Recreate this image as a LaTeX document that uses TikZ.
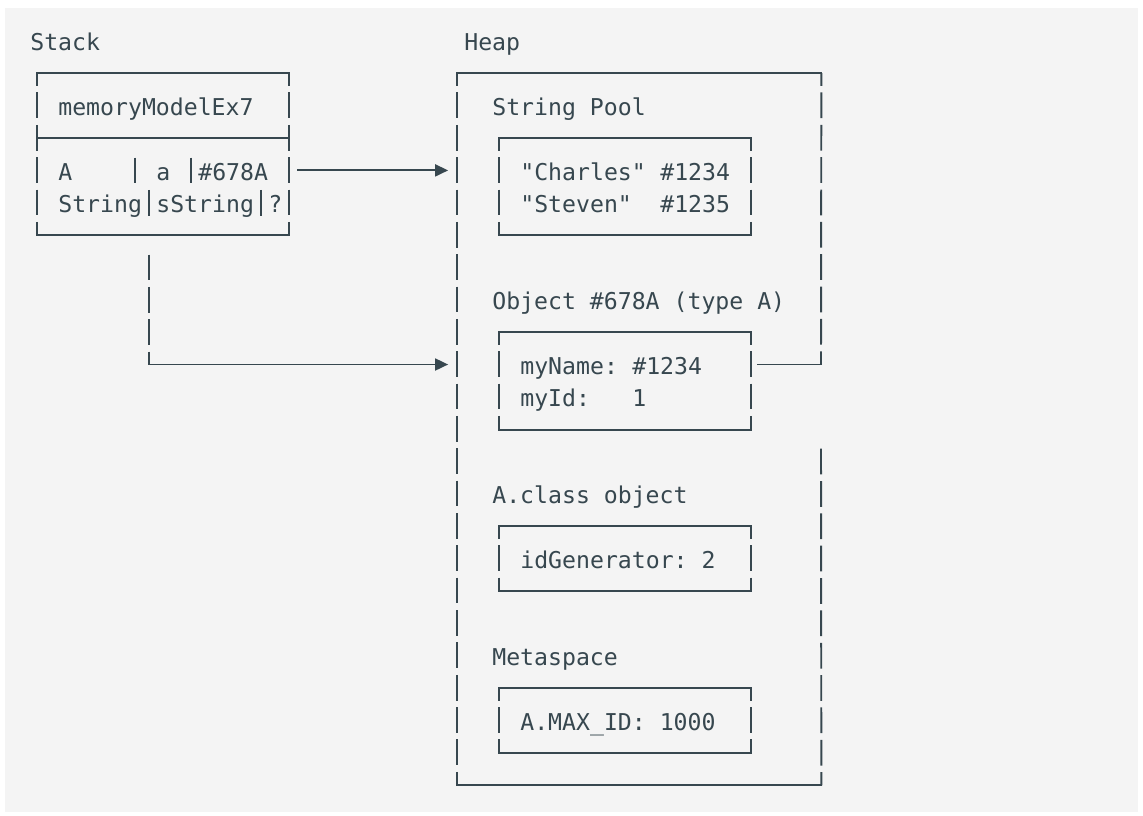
\documentclass[tikz,border=0pt]{standalone}
\usepackage{fontspec}
\setmonofont{DejaVu Sans Mono}
\usepackage{tikz}
\usetikzlibrary{arrows.meta,fit}
\definecolor{ink}{HTML}{37474F}
\definecolor{paper}{HTML}{F4F4F4}

\tikzset{
    hline/.style={ink, line width=1.1pt, line cap=rect},
    vline/.style={ink, line width=1.1pt, dash pattern=on 0.515cm off 0.132cm, dash phase=0.2575cm},
    vfull/.style={vline, dash phase=0.581cm},
    code/.style={font=\ttfamily\fontsize{13.18pt}{15pt}\selectfont, text=ink, inner sep=0pt, anchor=base west},
    ref/.style={ink, line width=1.1pt, -{Triangle[length=7.4pt, width=6.8pt]}},
    boxarea/.style={inner sep=0pt}
}

% four sides of a text box, vertical sides broken like the rows
\newcommand{\drawbox}[1]{%
    \draw[hline] (#1.north west) -- (#1.north east);
    \draw[hline] (#1.south west) -- (#1.south east);
    \draw[vline] (#1.north west) -- (#1.south west);
    \draw[vline] (#1.north east) -- (#1.south east);}

% one short upright bar inside a row
\newcommand{\cellbar}[2]{%
    \draw[ink, line width=1.1pt] (#1,#2-0.398) -- (#1,#2+0.398);}

\begin{document}
\begin{tikzpicture}[x=0.28cm, y=-0.647cm]
    % Page and background
    \useasboundingbox (-0.74cm,0.82cm) rectangle (22.12cm,-15.48cm);
    \fill[white] (-0.74cm,0.82cm) rectangle (22.12cm,-15.48cm);
    \fill[paper] (-0.64cm,0.66cm) rectangle (22.02cm,-15.42cm);

    % Titles
    \node[code] (stacklbl) at (-0.5,0.3) {Stack};
    \node[code] (heaplbl) at (30.5,0.3) {Heap};

    % Stack frame
    \node[boxarea, fit={(0,1) (18,6)}] (frame) {};
    \drawbox{frame}
    \draw[hline] (0,3) -- (18,3);
    \node[code] (method) at (1.5,2.3) {memoryModelEx7};
    \node[code] (typeA) at (1.5,4.3) {A};
    \node[code] (nameA) at (8.5,4.3) {a};
    \node[code] (valA) at (11.5,4.3) {\#678A};
    \node[code] (typeS) at (1.5,5.3) {String};
    \node[code] (nameS) at (8.5,5.3) {sString};
    \node[code] (valS) at (16.5,5.3) {?};
    \cellbar{7}{4}
    \cellbar{11}{4}
    \cellbar{8}{5}
    \cellbar{16}{5}

    % Heap outline (right side is broken below the link)
    \node[boxarea, fit={(30,1) (56,23)}] (heap) {};
    \draw[hline] (heap.north west) -- (heap.north east);
    \draw[hline] (heap.south west) -- (heap.south east);
    \draw[vline] (heap.north west) -- (heap.south west);
    \draw[vline] (heap.north east) -- (56,10);
    \draw[vfull] (56,12.5) -- (heap.south east);

    % String pool
    \node[code] (poollbl) at (32.5,2.3) {String Pool};
    \node[boxarea, fit={(33,3) (51,6)}] (pool) {};
    \drawbox{pool}
    \node[code] (charles) at (34.5,4.3) {"Charles"};
    \node[code] (id1234) at (44.5,4.3) {\#1234};
    \node[code] (steven) at (34.5,5.3) {"Steven"};
    \node[code] (id1235) at (44.5,5.3) {\#1235};

    % Object #678A
    \node[code] (objlbl) at (32.5,8.3) {Object \#678A (type A)};
    \node[boxarea, fit={(33,9) (51,12)}] (obj) {};
    \drawbox{obj}
    \node[code] (myname) at (34.5,10.3) {myName:};
    \node[code] (mynameval) at (42.5,10.3) {\#1234};
    \node[code] (myid) at (34.5,11.3) {myId:};
    \node[code] (myidval) at (42.5,11.3) {1};

    % A.class object
    \node[code] (classlbl) at (32.5,14.3) {A.class object};
    \node[boxarea, fit={(33,15) (51,17)}] (cls) {};
    \drawbox{cls}
    \node[code] (idgen) at (34.5,16.3) {idGenerator: 2};

    % Metaspace
    \node[code] (metalbl) at (32.5,19.3) {Metaspace};
    \node[boxarea, fit={(33,20) (51,22)}] (meta) {};
    \drawbox{meta}
    \node[code] (maxid) at (34.5,21.3) {A.MAX\_ID: 1000};

    % References
    \coordinate (ptr) at (18.6,4);
    \draw[ref] (ptr) -- ([xshift=-0.17cm]ptr -| heap.west);
    \coordinate (drop) at (8,6.5);
    \coordinate (bend) at (8,10);
    \draw[vfull] (drop) -- (bend);
    \draw[ref] (bend) -- ([xshift=-0.17cm]bend -| heap.west);
    \coordinate (link) at (51.5,10);
    \draw[hline] (link) -- (link -| heap.east);
\end{tikzpicture}
\end{document}
